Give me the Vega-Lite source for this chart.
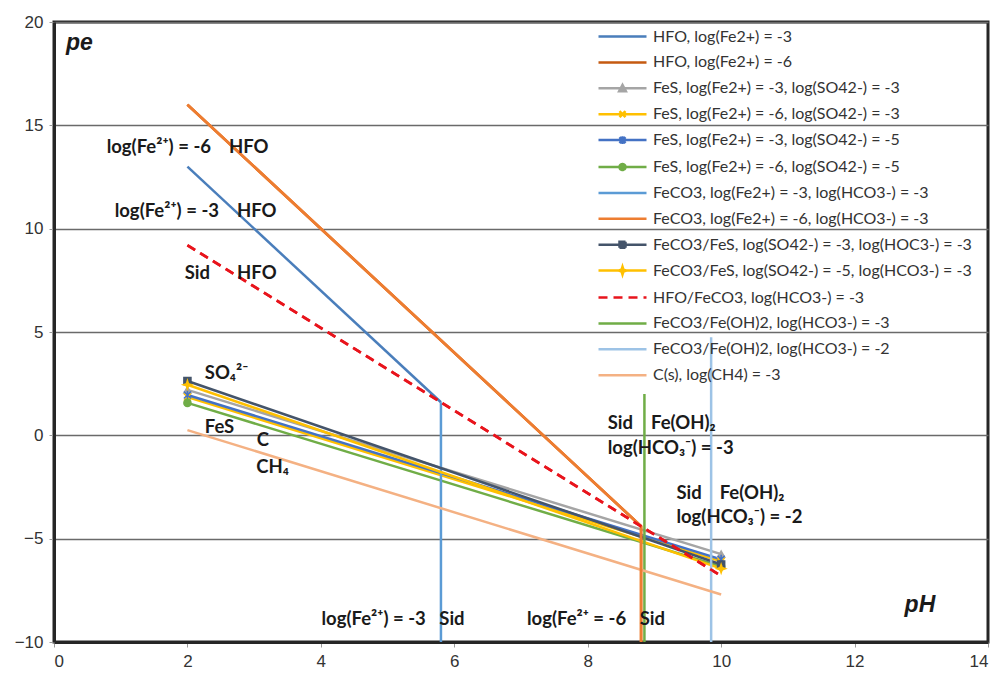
{
  "$schema": "https://vega.github.io/schema/vega-lite/v6.json",
  "width": 934,
  "height": 620,
  "autosize": {"type": "none"},
  "padding": {"left": 54, "top": 22, "right": 14, "bottom": 33},
  "background": "white",
  "config": {
    "view": {"stroke": "#262626", "strokeWidth": 3},
    "axis": {
      "labelFont": "Liberation Sans",
      "labelFontSize": 17,
      "labelColor": "#333333",
      "tickColor": "#9a9a9a",
      "tickSize": 5,
      "domainColor": "#262626",
      "domainWidth": 3,
      "title": null
    }
  },
  "datasets": {
    "lines": [
      {"series": "HFO, log(Fe2+) = -3", "o": 1, "x": 2, "y": 13.0},
      {"series": "HFO, log(Fe2+) = -3", "o": 2, "x": 5.8, "y": 1.6},
      {"series": "HFO, log(Fe2+) = -6", "o": 1, "x": 2, "y": 16.0},
      {"series": "HFO, log(Fe2+) = -6", "o": 2, "x": 8.8, "y": -4.4},
      {"series": "FeS, log(Fe2+) = -3, log(SO42-) = -3", "o": 1, "x": 2, "y": 2.2},
      {"series": "FeS, log(Fe2+) = -3, log(SO42-) = -3", "o": 2, "x": 10, "y": -5.75},
      {"series": "FeS, log(Fe2+) = -6, log(SO42-) = -3", "o": 1, "x": 2, "y": 1.85},
      {"series": "FeS, log(Fe2+) = -6, log(SO42-) = -3", "o": 2, "x": 10, "y": -6.1},
      {"series": "FeS, log(Fe2+) = -3, log(SO42-) = -5", "o": 1, "x": 2, "y": 1.95},
      {"series": "FeS, log(Fe2+) = -3, log(SO42-) = -5", "o": 2, "x": 10, "y": -6.0},
      {"series": "FeS, log(Fe2+) = -6, log(SO42-) = -5", "o": 1, "x": 2, "y": 1.57},
      {"series": "FeS, log(Fe2+) = -6, log(SO42-) = -5", "o": 2, "x": 10, "y": -6.35},
      {"series": "FeCO3, log(Fe2+) = -3, log(HCO3-) = -3", "o": 1, "x": 5.8, "y": 1.6},
      {"series": "FeCO3, log(Fe2+) = -3, log(HCO3-) = -3", "o": 2, "x": 5.8, "y": -10},
      {"series": "FeCO3, log(Fe2+) = -6, log(HCO3-) = -3", "o": 1, "x": 2, "y": 16.0},
      {"series": "FeCO3, log(Fe2+) = -6, log(HCO3-) = -3", "o": 2, "x": 8.8, "y": -4.4},
      {"series": "FeCO3, log(Fe2+) = -6, log(HCO3-) = -3", "o": 3, "x": 8.8, "y": -10},
      {"series": "FeCO3/FeS, log(SO42-) = -3, log(HOC3-) = -3", "o": 1, "x": 2, "y": 2.63},
      {"series": "FeCO3/FeS, log(SO42-) = -3, log(HOC3-) = -3", "o": 2, "x": 10, "y": -6.25},
      {"series": "FeCO3/FeS, log(SO42-) = -5, log(HCO3-) = -3", "o": 1, "x": 2, "y": 2.45},
      {"series": "FeCO3/FeS, log(SO42-) = -5, log(HCO3-) = -3", "o": 2, "x": 10, "y": -6.45},
      {"series": "HFO/FeCO3, log(HCO3-) = -3", "o": 1, "x": 2, "y": 9.2},
      {"series": "HFO/FeCO3, log(HCO3-) = -3", "o": 2, "x": 10, "y": -6.8},
      {"series": "FeCO3/Fe(OH)2, log(HCO3-) = -3", "o": 1, "x": 8.85, "y": 2.0},
      {"series": "FeCO3/Fe(OH)2, log(HCO3-) = -3", "o": 2, "x": 8.85, "y": -10},
      {"series": "FeCO3/Fe(OH)2, log(HCO3-) = -2", "o": 1, "x": 9.85, "y": 4.75},
      {"series": "FeCO3/Fe(OH)2, log(HCO3-) = -2", "o": 2, "x": 9.85, "y": -10},
      {"series": "C(s), log(CH4) = -3", "o": 1, "x": 2, "y": 0.25},
      {"series": "C(s), log(CH4) = -3", "o": 2, "x": 10, "y": -7.7}
    ],
    "labels": [
      {"label": "log(Fe²⁺) = -6\u00a0\u00a0\u00a0\u00a0HFO", "x": 0.79, "y": 13.95},
      {"label": "log(Fe²⁺) = -3\u00a0\u00a0\u00a0\u00a0HFO", "x": 0.91, "y": 10.85},
      {"label": "Sid\u00a0\u00a0\u00a0\u00a0\u00a0\u00a0HFO", "x": 1.96, "y": 7.84},
      {"label": "SO₄²⁻", "x": 2.26, "y": 3.0},
      {"label": "FeS", "x": 2.26, "y": 0.4},
      {"label": "C", "x": 3.04, "y": -0.24},
      {"label": "CH₄", "x": 3.03, "y": -1.53},
      {"label": "Sid\u00a0\u00a0\u00a0\u00a0Fe(OH)₂", "x": 8.3, "y": 0.58},
      {"label": "log(HCO₃⁻) = -3", "x": 8.3, "y": -0.63},
      {"label": "Sid\u00a0\u00a0\u00a0\u00a0Fe(OH)₂", "x": 9.33, "y": -2.8},
      {"label": "log(HCO₃⁻) = -2", "x": 9.33, "y": -3.97},
      {"label": "log(Fe²⁺) = -3\u00a0\u00a0\u00a0Sid", "x": 4.01, "y": -8.9},
      {"label": "log(Fe²⁺ = -6\u00a0\u00a0\u00a0Sid", "x": 7.09, "y": -8.9}
    ],
    "titles": [
      {"label": "pe", "x": 0.18, "y": 19.0},
      {"label": "pH", "x": 12.75, "y": -8.2}
    ]
  },
  "layer": [
    {
      "data": {"name": "lines"},
      "mark": {"type": "line", "strokeWidth": 2.5},
      "encoding": {
        "x": {"field": "x", "type": "quantitative", "scale": {"domain": [0, 14], "nice": false},
              "axis": {"values": [0, 2, 4, 6, 8, 10, 12, 14], "format": "d", "grid": false, "labelPadding": 6}},
        "y": {"field": "y", "type": "quantitative", "scale": {"domain": [-10, 20], "nice": false},
              "axis": {"values": [-10, -5, 0, 5, 10, 15, 20], "format": "d", "grid": true, "gridColor": "#6a6a6a", "gridWidth": 1.3, "labelPadding": 6}},
        "order": {"field": "o"},
        "color": {
          "field": "series", "type": "nominal",
          "scale": {
            "domain": [
              "HFO, log(Fe2+) = -3",
              "HFO, log(Fe2+) = -6",
              "FeS, log(Fe2+) = -3, log(SO42-) = -3",
              "FeS, log(Fe2+) = -6, log(SO42-) = -3",
              "FeS, log(Fe2+) = -3, log(SO42-) = -5",
              "FeS, log(Fe2+) = -6, log(SO42-) = -5",
              "FeCO3, log(Fe2+) = -3, log(HCO3-) = -3",
              "FeCO3, log(Fe2+) = -6, log(HCO3-) = -3",
              "FeCO3/FeS, log(SO42-) = -3, log(HOC3-) = -3",
              "FeCO3/FeS, log(SO42-) = -5, log(HCO3-) = -3",
              "HFO/FeCO3, log(HCO3-) = -3",
              "FeCO3/Fe(OH)2, log(HCO3-) = -3",
              "FeCO3/Fe(OH)2, log(HCO3-) = -2",
              "C(s), log(CH4) = -3"
            ],
            "range": ["#4A7EBB", "#C55A11", "#A5A5A5", "#FFC000", "#4472C4", "#70AD47", "#5B9BD5", "#ED7D31", "#44546A", "#FFC000", "#E8141C", "#70AD47", "#9DC3E6", "#F4B183"]
          },
          "legend": {
            "title": null,
            "orient": "none",
            "legendX": 543,
            "legendY": 1,
            "padding": 0,
            "symbolSize": 576,
            "symbolStrokeWidth": 2.5,
            "labelOffset": 29,
            "labelLimit": 420,
            "labelFont": "Lato",
            "labelFontSize": 16,
            "labelColor": "#333333",
            "rowPadding": 3.9,
            "encode": {
              "symbols": {
                "update": {
                  "shape": {"signal": "datum.value === 'FeS, log(Fe2+) = -3, log(SO42-) = -3' ? 'M-1,0H3M0.72,0.25L1,-0.28L1.28,0.25Z' : datum.value === 'FeS, log(Fe2+) = -6, log(SO42-) = -3' ? 'M-1,0H3M0.75,-0.25L1.25,0.25M0.75,0.25L1.25,-0.25' : datum.value === 'FeS, log(Fe2+) = -3, log(SO42-) = -5' ? 'M-1,0H3M0.75,-0.25L1.25,0.25M0.75,0.25L1.25,-0.25M1,-0.32V0.32' : datum.value === 'FeS, log(Fe2+) = -6, log(SO42-) = -5' ? 'M-1,0H3M1.25,0A0.25,0.25,0,1,1,0.75,0A0.25,0.25,0,1,1,1.25,0Z' : datum.value === 'FeCO3/FeS, log(SO42-) = -3, log(HOC3-) = -3' ? 'M-1,0H3M0.75,-0.25H1.25V0.25H0.75Z' : datum.value === 'FeCO3/FeS, log(SO42-) = -5, log(HCO3-) = -3' ? 'M-1,0H3M1,-0.33L1.08,-0.08L1.33,0L1.08,0.08L1,0.33L0.92,0.08L0.67,0L0.92,-0.08Z' : 'M-1,0H3'"},
                  "fill": {"signal": "scale('color', datum.value)"},
                  "stroke": {"signal": "scale('color', datum.value)"},
                  "strokeWidth": {"value": 2.5},
                  "strokeDash": {"signal": "datum.value === 'HFO/FeCO3, log(HCO3-) = -3' ? [9,6] : [1,0]"}
                }
              }
            }
          }
        },
        "strokeDash": {
          "field": "series", "type": "nominal", "legend": null,
          "scale": {
            "domain": ["HFO/FeCO3, log(HCO3-) = -3", "other"],
            "range": [[9, 6], [1, 0]]
          }
        }
      }
    },
    {
      "data": {"name": "lines"},
      "transform": [
        {"filter": {"field": "series", "oneOf": ["FeCO3, log(Fe2+) = -6, log(HCO3-) = -3", "HFO/FeCO3, log(HCO3-) = -3"]}}
      ],
      "mark": {"type": "line", "strokeWidth": 2.8},
      "encoding": {
        "x": {"field": "x", "type": "quantitative"},
        "y": {"field": "y", "type": "quantitative"},
        "order": {"field": "o"},
        "color": {"field": "series", "type": "nominal"},
        "strokeDash": {"field": "series", "type": "nominal", "legend": null}
      }
    },
    {
      "data": {"name": "lines"},
      "transform": [
        {"filter": {"field": "series", "oneOf": [
          "FeS, log(Fe2+) = -3, log(SO42-) = -3",
          "FeS, log(Fe2+) = -6, log(SO42-) = -3",
          "FeS, log(Fe2+) = -3, log(SO42-) = -5",
          "FeS, log(Fe2+) = -6, log(SO42-) = -5",
          "FeCO3/FeS, log(SO42-) = -3, log(HOC3-) = -3",
          "FeCO3/FeS, log(SO42-) = -5, log(HCO3-) = -3"
        ]}}
      ],
      "mark": {"type": "point", "filled": true, "size": 50, "strokeWidth": 1.5, "opacity": 1},
      "encoding": {
        "x": {"field": "x", "type": "quantitative"},
        "y": {"field": "y", "type": "quantitative"},
        "shape": {
          "field": "series", "type": "nominal", "legend": null,
          "scale": {
            "domain": [
              "FeS, log(Fe2+) = -3, log(SO42-) = -3",
              "FeS, log(Fe2+) = -6, log(SO42-) = -3",
              "FeS, log(Fe2+) = -3, log(SO42-) = -5",
              "FeS, log(Fe2+) = -6, log(SO42-) = -5",
              "FeCO3/FeS, log(SO42-) = -3, log(HOC3-) = -3",
              "FeCO3/FeS, log(SO42-) = -5, log(HCO3-) = -3"
            ],
            "range": [
              "triangle-up",
              "M-1,-1L1,1M-1,1L1,-1",
              "M-1,-1L1,1M-1,1L1,-1M0,-1.3V1.3",
              "circle",
              "square",
              "M0,-1.2L0.3,-0.3L1.2,0L0.3,0.3L0,1.2L-0.3,0.3L-1.2,0L-0.3,-0.3Z"
            ]
          }
        },
        "fill": {
          "field": "series", "type": "nominal", "legend": null,
          "scale": {
            "domain": [
              "FeS, log(Fe2+) = -3, log(SO42-) = -3",
              "FeS, log(Fe2+) = -6, log(SO42-) = -3",
              "FeS, log(Fe2+) = -3, log(SO42-) = -5",
              "FeS, log(Fe2+) = -6, log(SO42-) = -5",
              "FeCO3/FeS, log(SO42-) = -3, log(HOC3-) = -3",
              "FeCO3/FeS, log(SO42-) = -5, log(HCO3-) = -3"
            ],
            "range": ["#A5A5A5", "#FFC000", "#4472C4", "#70AD47", "#44546A", "#FFC000"]
          }
        },
        "stroke": {
          "field": "series", "type": "nominal", "legend": null,
          "scale": {
            "domain": [
              "FeS, log(Fe2+) = -3, log(SO42-) = -3",
              "FeS, log(Fe2+) = -6, log(SO42-) = -3",
              "FeS, log(Fe2+) = -3, log(SO42-) = -5",
              "FeS, log(Fe2+) = -6, log(SO42-) = -5",
              "FeCO3/FeS, log(SO42-) = -3, log(HOC3-) = -3",
              "FeCO3/FeS, log(SO42-) = -5, log(HCO3-) = -3"
            ],
            "range": ["#A5A5A5", "#FFC000", "#4472C4", "#70AD47", "#44546A", "#FFC000"]
          }
        }
      }
    },
    {
      "data": {"name": "labels"},
      "mark": {"type": "text", "align": "left", "baseline": "middle", "font": "Lato", "fontWeight": "bold", "fontSize": 18.5, "color": "#1a1a1a"},
      "encoding": {
        "x": {"field": "x", "type": "quantitative"},
        "y": {"field": "y", "type": "quantitative"},
        "text": {"field": "label"}
      }
    },
    {
      "data": {"name": "titles"},
      "mark": {"type": "text", "align": "left", "baseline": "middle", "font": "Liberation Sans", "fontWeight": "bold", "fontStyle": "italic", "fontSize": 23, "color": "#1a1a1a"},
      "encoding": {
        "x": {"field": "x", "type": "quantitative"},
        "y": {"field": "y", "type": "quantitative"},
        "text": {"field": "label"}
      }
    }
  ]
}
